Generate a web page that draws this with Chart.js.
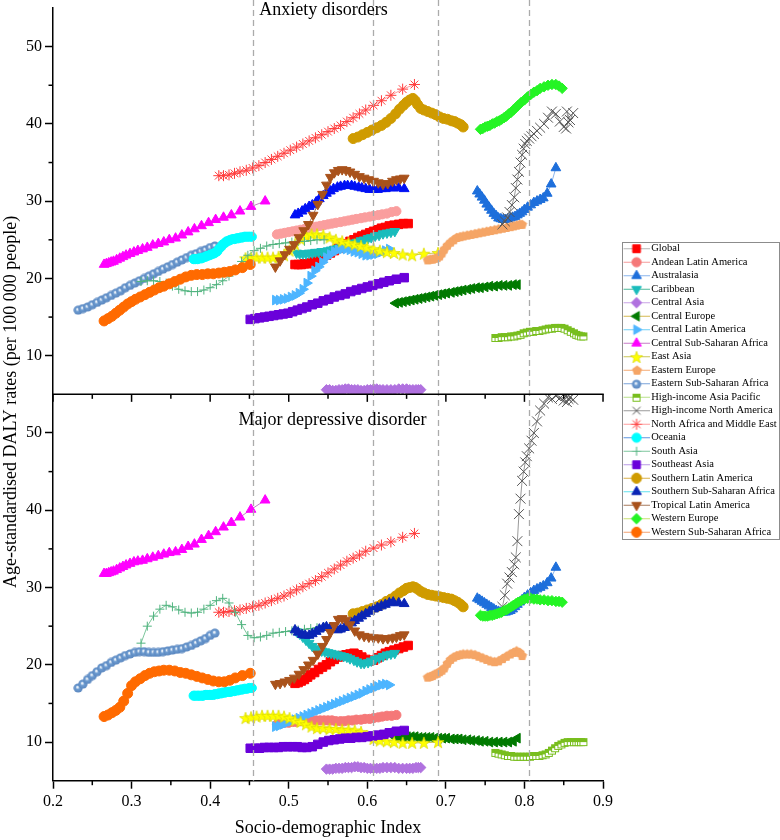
<!DOCTYPE html>
<html>
<head>
<meta charset="utf-8">
<title>SDI vs age-standardised DALY rates</title>
<script src="https://cdn.jsdelivr.net/npm/chart.js"></script>
<style>
html,body{margin:0;padding:0;background:#ffffff;overflow:hidden;width:780px;height:840px;}
canvas{display:block;}
</style>
</head>
<body>
<canvas id="chart" width="790" height="840" style="width:790px;height:840px"></canvas>
<script>
// ---------------- DATA ----------------
const categories = ['Global','Andean Latin America','Australasia','Caribbean','Central Asia','Central Europe',
  'Central Latin America','Central Sub-Saharan Africa','East Asia','Eastern Europe','Eastern Sub-Saharan Africa',
  'High-income Asia Pacific','High-income North America','North Africa and Middle East','Oceania','South Asia',
  'Southeast Asia','Southern Latin America','Southern Sub-Saharan Africa','Tropical Latin America','Western Europe',
  'Western Sub-Saharan Africa'];
const panelTitles = ['Anxiety disorders', 'Major depressive disorder'];
const yAxisTitle = 'Age-standardised DALY rates (per 100 000 people)';
const xTickValues = [0.2,0.3,0.4,0.5,0.6,0.7,0.8,0.9];
const xMinorValues = [0.25,0.35,0.45,0.55,0.65,0.75,0.85];
const yMinorValues = [15,25,35,45];
const sdiQuintileCuts = [0.4547,0.6076,0.6895,0.8052];

const sdiGlobal = [0.508,0.512,0.516,0.520,0.524,0.528,0.533,0.538,0.543,0.548,0.553,0.558,0.563,0.568,0.573,0.578,0.583,0.588,0.593,0.598,0.603,0.608,0.613,0.618,0.623,0.628,0.634,0.640,0.646,0.652];
const anxGlobal = [21.8,21.8,21.8,21.9,21.9,22.0,22.2,22.5,22.8,23.0,23.3,23.6,23.9,24.2,24.5,24.8,25.0,25.3,25.5,25.7,25.9,26.1,26.3,26.5,26.6,26.8,26.9,27.0,27.1,27.1];
const depGlobal = [17.6,17.7,17.9,18.1,18.4,18.7,19.0,19.4,19.7,20.0,20.4,20.7,21.0,21.2,21.3,21.4,21.5,21.3,21.0,20.7,20.5,20.6,20.9,21.2,21.5,21.7,21.9,22.1,22.3,22.5];

const sdiAndean = [0.485,0.490,0.495,0.500,0.505,0.510,0.515,0.520,0.525,0.530,0.535,0.540,0.545,0.550,0.555,0.560,0.566,0.571,0.576,0.581,0.586,0.592,0.597,0.603,0.608,0.614,0.619,0.625,0.631,0.637];
const anxAndean = [25.7,25.8,25.9,26.0,26.1,26.2,26.3,26.4,26.5,26.6,26.7,26.8,26.9,27.0,27.1,27.2,27.3,27.4,27.5,27.6,27.7,27.8,27.9,28.0,28.1,28.2,28.3,28.4,28.6,28.7];
const depAndean = [12.3,12.4,12.5,12.5,12.6,12.6,12.7,12.7,12.8,12.8,12.8,12.8,12.8,12.8,12.8,12.7,12.7,12.7,12.8,12.8,12.9,12.9,13.0,13.0,13.1,13.2,13.3,13.4,13.4,13.5];

const sdiAustralasia = [0.740,0.743,0.746,0.749,0.752,0.755,0.758,0.761,0.764,0.767,0.770,0.773,0.776,0.779,0.782,0.785,0.788,0.791,0.794,0.797,0.800,0.804,0.808,0.812,0.816,0.820,0.824,0.829,0.834,0.840];
const anxAustralasia = [31.3,30.9,30.5,30.1,29.6,29.2,28.8,28.4,28.1,27.8,27.7,27.6,27.6,27.7,27.8,27.9,28.0,28.2,28.4,28.6,28.9,29.2,29.5,29.8,30.0,30.2,30.4,31.0,32.2,34.3];
const depAustralasia = [28.6,28.4,28.2,28.0,27.8,27.6,27.4,27.2,27.0,26.9,26.8,26.8,26.8,26.9,27.0,27.2,27.5,27.8,28.1,28.4,28.7,29.0,29.3,29.6,29.8,30.0,30.2,30.6,31.2,32.6];

const sdiCaribbean = [0.510,0.514,0.518,0.522,0.526,0.530,0.534,0.538,0.542,0.546,0.550,0.554,0.558,0.562,0.566,0.570,0.574,0.578,0.583,0.587,0.592,0.596,0.601,0.605,0.610,0.615,0.620,0.625,0.630,0.635];
const anxCaribbean = [23.3,23.2,23.2,23.2,23.3,23.3,23.4,23.4,23.5,23.5,23.6,23.7,23.8,23.9,24.0,24.1,24.3,24.4,24.6,24.7,24.9,25.0,25.2,25.3,25.5,25.6,25.8,25.9,26.0,26.1];
const depCaribbean = [24.3,24.0,23.6,23.2,22.8,22.4,22.1,21.9,21.8,21.7,21.6,21.5,21.4,21.3,21.2,21.1,21.0,20.8,20.6,20.4,20.2,20.2,20.3,20.5,20.7,20.9,21.1,21.3,21.4,21.5];

const sdiCentralAsia = [0.548,0.552,0.556,0.560,0.564,0.568,0.572,0.576,0.580,0.584,0.588,0.592,0.596,0.600,0.604,0.608,0.612,0.616,0.620,0.625,0.630,0.635,0.640,0.645,0.650,0.654,0.658,0.662,0.665,0.668];
const anxCentralAsia = [5.6,5.6,5.5,5.5,5.6,5.6,5.7,5.7,5.6,5.6,5.6,5.5,5.5,5.6,5.6,5.7,5.7,5.6,5.6,5.6,5.6,5.6,5.7,5.7,5.7,5.6,5.6,5.6,5.6,5.6];
const depCentralAsia = [6.5,6.5,6.5,6.6,6.6,6.6,6.7,6.7,6.7,6.8,6.8,6.7,6.7,6.6,6.6,6.6,6.6,6.6,6.7,6.7,6.7,6.7,6.6,6.6,6.6,6.6,6.6,6.7,6.7,6.7];

const sdiCentralEurope = [0.636,0.641,0.646,0.651,0.656,0.661,0.666,0.671,0.676,0.681,0.686,0.691,0.696,0.701,0.707,0.712,0.717,0.722,0.728,0.733,0.739,0.744,0.750,0.756,0.762,0.768,0.774,0.780,0.786,0.791];
const anxCentralEurope = [16.8,16.9,17.0,17.1,17.2,17.3,17.4,17.5,17.6,17.7,17.8,17.9,18.0,18.1,18.2,18.3,18.4,18.5,18.6,18.7,18.8,18.8,18.9,19.0,19.0,19.1,19.1,19.1,19.2,19.2];
const depCentralEurope = [10.6,10.6,10.6,10.7,10.7,10.7,10.6,10.6,10.6,10.6,10.5,10.5,10.5,10.5,10.4,10.4,10.4,10.3,10.3,10.2,10.2,10.1,10.1,10.0,10.0,10.0,10.0,10.0,10.1,10.5];

const sdiCentralLatAm = [0.483,0.488,0.493,0.498,0.503,0.508,0.513,0.518,0.523,0.528,0.533,0.538,0.543,0.548,0.553,0.558,0.563,0.568,0.573,0.578,0.583,0.588,0.593,0.598,0.603,0.608,0.613,0.618,0.623,0.628];
const anxCentralLatAm = [17.2,17.2,17.3,17.4,17.6,17.8,18.1,18.6,19.4,20.3,21.0,21.5,22.1,22.7,23.1,23.5,23.7,23.8,23.8,23.7,23.5,23.4,23.2,23.0,23.0,23.1,23.2,23.4,23.6,23.8];
const depCentralLatAm = [12.0,12.1,12.3,12.5,12.7,12.9,13.1,13.3,13.5,13.7,13.9,14.1,14.3,14.5,14.7,14.9,15.1,15.3,15.5,15.7,15.9,16.1,16.3,16.6,16.8,17.0,17.2,17.4,17.5,17.4];

const sdiCentralSSA = [0.265,0.268,0.271,0.274,0.277,0.281,0.285,0.289,0.293,0.298,0.303,0.308,0.314,0.320,0.327,0.334,0.341,0.348,0.356,0.364,0.372,0.380,0.389,0.398,0.407,0.417,0.427,0.438,0.452,0.470];
const anxCentralSSA = [21.8,21.9,22.0,22.1,22.2,22.4,22.6,22.8,23.0,23.2,23.4,23.6,23.8,24.0,24.3,24.5,24.7,25.0,25.2,25.6,26.0,26.4,26.8,27.2,27.6,27.9,28.2,28.7,29.3,30.0];
const depCentralSSA = [31.8,31.8,31.9,32.0,32.1,32.3,32.5,32.7,32.9,33.1,33.3,33.4,33.5,33.7,33.9,34.1,34.3,34.5,34.6,34.9,35.3,35.6,36.2,36.7,37.2,37.8,38.4,39.1,40.1,41.3];

const sdiEastAsia = [0.445,0.452,0.459,0.466,0.473,0.480,0.487,0.494,0.501,0.508,0.515,0.522,0.529,0.536,0.544,0.552,0.560,0.568,0.576,0.584,0.592,0.600,0.608,0.616,0.625,0.634,0.645,0.657,0.672,0.690];
const anxEastAsia = [22.6,22.7,22.7,22.7,22.7,22.7,22.8,23.0,23.6,24.4,25.1,25.5,25.7,25.7,25.6,25.3,25.0,24.8,24.6,24.4,24.2,24.0,23.8,23.6,23.4,23.3,23.1,23.0,23.2,23.3];
const depEastAsia = [13.1,13.2,13.3,13.4,13.4,13.4,13.4,13.3,13.1,12.8,12.6,12.3,12.0,11.8,11.8,11.7,11.7,11.6,11.6,11.5,11.3,10.8,10.4,10.2,10.1,10.0,9.9,9.9,9.9,10.0];

const sdiEasternEurope = [0.677,0.680,0.683,0.686,0.689,0.692,0.695,0.698,0.702,0.706,0.710,0.714,0.718,0.722,0.727,0.732,0.737,0.742,0.747,0.752,0.757,0.762,0.767,0.772,0.777,0.782,0.786,0.790,0.794,0.797];
const anxEasternEurope = [22.4,22.5,22.5,22.6,22.7,22.9,23.3,23.8,24.3,24.7,25.0,25.3,25.4,25.5,25.6,25.7,25.8,25.9,26.0,26.1,26.2,26.3,26.4,26.5,26.6,26.7,26.8,26.9,27.0,27.0];
const depEasternEurope = [18.4,18.5,18.6,18.8,18.9,19.1,19.3,19.6,20.2,20.7,21.0,21.2,21.3,21.4,21.4,21.4,21.3,21.1,20.9,20.7,20.5,20.4,20.5,20.8,21.1,21.4,21.6,21.8,21.6,21.2];

const sdiEasternSSA = [0.232,0.238,0.244,0.250,0.256,0.262,0.268,0.274,0.280,0.286,0.292,0.298,0.304,0.310,0.316,0.322,0.328,0.334,0.340,0.346,0.352,0.358,0.364,0.370,0.376,0.382,0.388,0.394,0.400,0.406];
const anxEasternSSA = [15.9,16.1,16.3,16.6,16.9,17.2,17.5,17.8,18.1,18.4,18.8,19.1,19.4,19.7,20.0,20.3,20.6,20.9,21.2,21.5,21.8,22.1,22.4,22.7,23.0,23.2,23.5,23.7,24.0,24.2];
const depEasternSSA = [17.0,17.5,18.1,18.6,19.1,19.6,19.9,20.3,20.6,20.9,21.2,21.4,21.6,21.7,21.7,21.6,21.6,21.6,21.7,21.8,21.9,22.0,22.1,22.3,22.5,22.8,23.1,23.4,23.8,24.1];

const sdiHIAsiaPacific = [0.763,0.767,0.771,0.775,0.779,0.783,0.787,0.791,0.795,0.799,0.803,0.807,0.811,0.815,0.819,0.823,0.827,0.831,0.835,0.839,0.843,0.847,0.851,0.855,0.859,0.863,0.866,0.869,0.872,0.875];
const anxHIAsiaPacific = [12.3,12.3,12.4,12.4,12.4,12.5,12.5,12.6,12.7,12.9,13.0,13.1,13.1,13.2,13.2,13.3,13.4,13.5,13.5,13.6,13.6,13.6,13.5,13.3,13.1,12.9,12.7,12.6,12.5,12.5];
const depHIAsiaPacific = [8.6,8.5,8.4,8.3,8.2,8.2,8.1,8.1,8.1,8.1,8.1,8.1,8.2,8.2,8.2,8.3,8.4,8.6,8.9,9.2,9.5,9.7,9.9,10.0,10.0,10.0,10.0,10.0,10.0,10.0];

const sdiHINorthAmerica = [0.772,0.775,0.778,0.781,0.784,0.787,0.789,0.791,0.793,0.795,0.797,0.799,0.801,0.803,0.806,0.809,0.812,0.816,0.820,0.825,0.830,0.835,0.840,0.845,0.850,0.853,0.856,0.854,0.858,0.862];
const anxHINorthAmerica = [27.0,27.4,27.9,28.6,29.5,30.5,31.7,32.8,33.8,35.0,36.0,36.8,37.4,37.8,38.1,38.4,38.7,39.1,39.5,40.0,40.8,41.6,41.3,40.3,39.6,39.4,40.2,41.6,40.5,41.4];
const depHINorthAmerica = [27.5,29.0,30.5,31.3,32.0,33.0,33.9,36.0,39.5,41.5,43.8,45.0,46.2,47.0,48.0,49.0,50.0,51.5,52.9,53.8,54.6,54.4,54.8,54.5,54.2,54.8,54.4,54.0,54.6,54.3];

const sdiNAME = [0.411,0.417,0.424,0.431,0.438,0.446,0.454,0.462,0.470,0.478,0.486,0.494,0.502,0.510,0.518,0.526,0.534,0.542,0.550,0.558,0.566,0.574,0.582,0.590,0.598,0.608,0.618,0.630,0.645,0.660];
const anxNAME = [33.3,33.3,33.4,33.6,33.8,34.0,34.3,34.6,35.0,35.4,35.8,36.2,36.6,37.0,37.4,37.8,38.2,38.6,39.0,39.4,39.8,40.3,40.8,41.3,41.8,42.4,43.0,43.7,44.5,45.1];
const depNAME = [26.8,26.8,26.9,27.0,27.1,27.3,27.5,27.7,28.0,28.3,28.6,28.9,29.3,29.7,30.1,30.5,30.9,31.4,31.9,32.4,32.9,33.4,33.8,34.2,34.7,35.1,35.5,35.9,36.5,37.0];

const sdiOceania = [0.379,0.381,0.384,0.386,0.389,0.391,0.394,0.396,0.399,0.401,0.404,0.406,0.409,0.411,0.414,0.416,0.419,0.421,0.424,0.426,0.429,0.431,0.434,0.436,0.439,0.441,0.444,0.447,0.450,0.453];
const anxOceania = [22.5,22.5,22.5,22.6,22.6,22.7,22.8,22.9,23.0,23.1,23.2,23.3,23.5,23.8,24.1,24.4,24.6,24.8,24.9,25.0,25.1,25.1,25.2,25.2,25.3,25.3,25.4,25.4,25.4,25.4];
const depOceania = [16.0,16.0,16.0,16.0,16.0,16.0,16.1,16.1,16.1,16.1,16.1,16.2,16.2,16.3,16.3,16.4,16.4,16.5,16.5,16.5,16.6,16.6,16.7,16.7,16.8,16.8,16.9,16.9,17.0,17.0];

const sdiSouthAsia = [0.312,0.320,0.328,0.336,0.344,0.352,0.360,0.368,0.376,0.384,0.392,0.400,0.408,0.416,0.424,0.432,0.440,0.448,0.456,0.464,0.472,0.480,0.488,0.496,0.504,0.512,0.520,0.528,0.536,0.545];
const anxSouthAsia = [19.6,19.7,19.7,19.6,19.4,19.0,18.6,18.4,18.3,18.3,18.5,18.8,19.2,19.7,20.3,21.2,22.2,23.0,23.6,23.9,24.2,24.4,24.5,24.6,24.7,24.8,24.8,24.9,25.0,25.0];
const depSouthAsia = [22.8,25.0,26.3,27.2,27.7,27.5,27.1,26.8,26.7,26.8,27.2,27.7,28.3,28.6,28.0,26.8,25.2,23.8,23.5,23.6,23.8,24.1,24.2,24.3,24.4,24.5,24.6,24.7,24.8,24.9];

const sdiSoutheastAsia = [0.451,0.457,0.463,0.469,0.475,0.481,0.487,0.493,0.499,0.505,0.511,0.517,0.523,0.530,0.537,0.544,0.551,0.558,0.565,0.572,0.579,0.586,0.593,0.600,0.607,0.614,0.621,0.628,0.637,0.647];
const anxSoutheastAsia = [14.7,14.8,14.9,15.0,15.1,15.2,15.3,15.4,15.5,15.7,15.9,16.1,16.3,16.6,16.8,17.1,17.3,17.6,17.8,18.0,18.3,18.5,18.7,18.9,19.1,19.3,19.5,19.7,19.9,20.1];
const depSoutheastAsia = [9.2,9.2,9.2,9.3,9.3,9.3,9.3,9.4,9.4,9.4,9.4,9.3,9.3,9.4,9.7,10.0,10.2,10.3,10.4,10.5,10.5,10.6,10.6,10.7,10.8,10.9,11.0,11.2,11.4,11.5];

const sdiSouthernLatAm = [0.582,0.588,0.594,0.600,0.606,0.612,0.618,0.624,0.630,0.636,0.641,0.646,0.650,0.654,0.658,0.661,0.664,0.668,0.672,0.677,0.682,0.687,0.692,0.697,0.702,0.707,0.711,0.715,0.719,0.722];
const anxSouthernLatAm = [38.1,38.3,38.6,38.9,39.2,39.5,39.8,40.2,40.7,41.3,41.9,42.4,42.8,43.1,43.3,43.0,42.5,42.0,41.8,41.6,41.4,41.2,40.9,40.7,40.6,40.4,40.3,40.1,39.9,39.6];
const depSouthernLatAm = [26.6,26.7,26.9,27.1,27.3,27.5,27.8,28.2,28.5,28.9,29.3,29.6,29.9,30.0,30.1,30.0,29.8,29.5,29.3,29.1,29.0,28.9,28.8,28.7,28.6,28.5,28.3,28.1,27.8,27.5];

const sdiSouthernSSA = [0.508,0.512,0.517,0.521,0.526,0.530,0.535,0.539,0.544,0.548,0.553,0.557,0.562,0.566,0.571,0.575,0.580,0.584,0.589,0.593,0.598,0.603,0.608,0.613,0.618,0.623,0.628,0.633,0.640,0.647];
const anxSouthernSSA = [28.2,28.4,28.7,29.0,29.3,29.5,29.9,30.3,30.7,31.0,31.3,31.6,31.8,31.9,32.0,32.0,32.0,31.9,31.8,31.7,31.6,31.5,31.5,31.5,31.6,31.6,31.7,31.7,31.7,31.6];
const depSouthernSSA = [24.5,24.2,23.9,23.8,23.8,24.0,24.3,24.6,24.8,24.9,24.8,24.6,24.5,24.6,24.8,25.1,25.4,25.7,26.0,26.3,26.6,26.9,27.2,27.4,27.6,27.8,28.0,28.1,28.0,27.9];

const sdiTropicalLatAm = [0.483,0.489,0.495,0.501,0.507,0.513,0.519,0.525,0.531,0.537,0.543,0.548,0.553,0.558,0.563,0.568,0.573,0.578,0.584,0.590,0.596,0.602,0.608,0.614,0.620,0.626,0.632,0.637,0.642,0.647];
const anxTropicalLatAm = [21.5,22.3,23.1,23.8,24.4,25.3,26.2,27.0,28.2,29.6,30.9,32.1,33.1,33.7,34.0,34.1,34.0,33.8,33.5,33.2,33.0,32.8,32.6,32.4,32.2,32.3,32.6,32.8,32.9,33.0];
const depTropicalLatAm = [17.5,17.6,17.8,18.0,18.3,18.8,19.4,20.0,20.6,21.4,22.4,23.3,24.2,25.1,25.9,26.0,25.8,25.2,24.4,23.9,23.7,23.6,23.5,23.5,23.4,23.4,23.5,23.6,23.8,23.9];

const sdiWesternEurope = [0.744,0.747,0.750,0.753,0.756,0.759,0.762,0.765,0.768,0.771,0.774,0.777,0.780,0.783,0.786,0.789,0.792,0.796,0.800,0.804,0.808,0.812,0.816,0.820,0.825,0.830,0.835,0.840,0.844,0.848];
const anxWesternEurope = [39.3,39.4,39.6,39.7,39.8,40.0,40.1,40.3,40.4,40.6,40.8,41.0,41.3,41.5,41.8,42.1,42.4,42.8,43.1,43.5,43.8,44.1,44.3,44.6,44.8,45.0,45.1,45.1,44.9,44.6];
const depWesternEurope = [26.4,26.3,26.3,26.3,26.4,26.4,26.5,26.6,26.7,26.8,27.0,27.1,27.3,27.5,27.7,27.9,28.1,28.3,28.5,28.6,28.6,28.5,28.5,28.4,28.4,28.3,28.3,28.2,28.2,28.1];

const sdiWesternSSA = [0.265,0.270,0.275,0.280,0.285,0.290,0.295,0.300,0.305,0.311,0.317,0.323,0.329,0.335,0.341,0.348,0.355,0.362,0.369,0.376,0.383,0.390,0.397,0.404,0.411,0.418,0.425,0.432,0.441,0.451];
const anxWesternSSA = [14.5,14.8,15.1,15.5,15.9,16.3,16.7,17.0,17.3,17.6,17.9,18.2,18.5,18.8,19.0,19.3,19.6,19.9,20.2,20.4,20.5,20.5,20.6,20.6,20.7,20.8,20.9,21.1,21.4,21.8];
const depWesternSSA = [13.3,13.5,13.8,14.1,14.5,15.3,16.3,17.3,17.8,18.2,18.6,18.9,19.1,19.2,19.3,19.3,19.2,19.0,18.9,18.7,18.5,18.3,18.1,17.9,17.8,17.8,18.0,18.3,18.6,18.9];

const sdiSeries = [sdiGlobal,sdiAndean,sdiAustralasia,sdiCaribbean,sdiCentralAsia,sdiCentralEurope,sdiCentralLatAm,sdiCentralSSA,sdiEastAsia,sdiEasternEurope,sdiEasternSSA,sdiHIAsiaPacific,sdiHINorthAmerica,sdiNAME,sdiOceania,sdiSouthAsia,sdiSoutheastAsia,sdiSouthernLatAm,sdiSouthernSSA,sdiTropicalLatAm,sdiWesternEurope,sdiWesternSSA];
const anxSeries = [anxGlobal,anxAndean,anxAustralasia,anxCaribbean,anxCentralAsia,anxCentralEurope,anxCentralLatAm,anxCentralSSA,anxEastAsia,anxEasternEurope,anxEasternSSA,anxHIAsiaPacific,anxHINorthAmerica,anxNAME,anxOceania,anxSouthAsia,anxSoutheastAsia,anxSouthernLatAm,anxSouthernSSA,anxTropicalLatAm,anxWesternEurope,anxWesternSSA];
const depSeries = [depGlobal,depAndean,depAustralasia,depCaribbean,depCentralAsia,depCentralEurope,depCentralLatAm,depCentralSSA,depEastAsia,depEasternEurope,depEasternSSA,depHIAsiaPacific,depHINorthAmerica,depNAME,depOceania,depSouthAsia,depSoutheastAsia,depSouthernLatAm,depSouthernSSA,depTropicalLatAm,depWesternEurope,depWesternSSA];

// ---------------- MARKER IMAGES ----------------
function mk(w, h, draw) { const c = document.createElement('canvas'); c.width = w; c.height = h; draw(c.getContext('2d')); return c; }
function polyPath(c, cx, cy, radii, n) {
  c.beginPath();
  for (let k = 0; k < n; k++) {
    const a = -Math.PI / 2 + k * 2 * Math.PI / n;
    const rr = radii[k % radii.length];
    c.lineTo(cx + rr * Math.cos(a), cy + rr * Math.sin(a));
  }
  c.closePath();
}
const starImg = mk(14, 14, c => { polyPath(c, 7, 7.5, [6.4, 2.6], 10); c.fillStyle = '#FFFF00'; c.fill(); c.strokeStyle = '#D9D900'; c.lineWidth = 0.7; c.stroke(); });
const pentagonImg = mk(11, 11, c => { polyPath(c, 5.5, 5.9, [5.2], 5); c.fillStyle = '#F5A566'; c.fill(); });
const sphereImg = mk(10, 10, c => {
  const g = c.createRadialGradient(4.2, 4.0, 0.1, 5, 5, 4.7);
  g.addColorStop(0, '#FFFFFF'); g.addColorStop(0.16, '#DDE8F5'); g.addColorStop(0.42, '#6E9DD2'); g.addColorStop(1, '#5884BD');
  c.beginPath(); c.arc(5, 5, 4.6, 0, Math.PI * 2); c.fillStyle = g; c.fill();
});
const halfSquareImg = mk(10, 10, c => {
  c.fillStyle = '#FFFFFF'; c.fillRect(1, 1, 8, 8);
  c.fillStyle = '#78BE1E'; c.fillRect(1, 1, 8, 4);
  c.strokeStyle = '#78BE1E'; c.lineWidth = 1; c.strokeRect(1.5, 1.5, 7, 7);
});

// ---------------- STYLES (one per region, same order as categories) ----------------
const seriesStyles = [
  {shape:'rect', r:6, fill:'#FF0000', line:'#B4B4B4'},
  {shape:'circle', r:4.6, fill:'#F57878', fillA:'#FA9E9E', line:'#F49A9A'},
  {shape:'triangle', r:5.6, fill:'#1E6FDB', line:'#8AB4EC'},
  {shape:'triangle', rot:180, r:5.6, fill:'#1ABCBC', line:'#4DB89A'},
  {shape:'rectRot', r:5.2, fill:'#B071DF', line:'#C9A3E6'},
  {shape:'triangle', rot:270, r:5.6, fill:'#007A00', line:'#D4B850'},
  {shape:'triangle', rot:90, r:5.6, fill:'#4DB5FF', line:'#6CCFF5'},
  {shape:'triangle', r:5.6, fill:'#FF00FF', line:'#C77BC7'},
  {img:starImg, fill:'#FFFF00', line:'#C8C456'},
  {img:pentagonImg, fill:'#F5A566', line:'#F5A870'},
  {img:sphereImg, fill:'#6A99CF', line:'#7AA3DA'},
  {img:halfSquareImg, fill:'#78BE1E', line:'#B8E08A'},
  {shape:'crossRot', r:7, fill:'#555555', line:'#9A9A9A'},
  {shape:'star', r:5.5, fill:'#FF3C3C', line:'#FF9C9C'},
  {shape:'circle', r:4.6, fill:'#00FFFF', line:'#5E96E0'},
  {shape:'cross', r:4.5, fill:'#4FB37E', line:'#7CC69C'},
  {shape:'rect', r:6, fill:'#6A00DA', line:'#B99AE6'},
  {shape:'circle', r:5, fill:'#CF9B00', line:'#D9B04A'},
  {shape:'triangle', r:5.6, fill:'#0A25B5', fillA:'#0010F5', line:'#5FE0EE'},
  {shape:'triangle', rot:180, r:5.6, fill:'#A9521B', line:'#A77A5C'},
  {shape:'rectRot', r:5.2, fill:'#25F425', line:'#C8E070'},
  {shape:'circle', r:5, fill:'#FF6A00', line:'#F2A070'}
];

// ---------------- LEGEND IMAGES (line + marker) ----------------
function drawShape(c, st, x, y) {
  const r = st.r, fill = st.fill;
  c.save();
  c.fillStyle = fill; c.strokeStyle = fill; c.lineWidth = 1;
  c.beginPath();
  if (st.img) { c.drawImage(st.img, Math.round(x - st.img.width / 2), Math.round(y - st.img.height / 2)); c.restore(); return; }
  switch (st.shape) {
    case 'circle': c.arc(x, y, r, 0, Math.PI * 2); c.fill(); c.stroke(); break;
    case 'rect': { const s = r * Math.SQRT1_2; c.rect(x - s, y - s, 2 * s, 2 * s); c.fill(); c.stroke(); break; }
    case 'triangle': {
      let a = (st.rot || 0) * Math.PI / 180;
      c.moveTo(x + Math.sin(a) * r, y - Math.cos(a) * r); a += 2 * Math.PI / 3;
      c.lineTo(x + Math.sin(a) * r, y - Math.cos(a) * r); a += 2 * Math.PI / 3;
      c.lineTo(x + Math.sin(a) * r, y - Math.cos(a) * r); c.closePath(); c.fill(); c.stroke(); break; }
    case 'rectRot': c.moveTo(x - r, y); c.lineTo(x, y - r); c.lineTo(x + r, y); c.lineTo(x, y + r); c.closePath(); c.fill(); c.stroke(); break;
    case 'cross': c.moveTo(x, y - r); c.lineTo(x, y + r); c.moveTo(x - r, y); c.lineTo(x + r, y); c.stroke(); break;
    case 'crossRot': { const d = r * Math.SQRT1_2; c.moveTo(x - d, y - d); c.lineTo(x + d, y + d); c.moveTo(x + d, y - d); c.lineTo(x - d, y + d); c.stroke(); break; }
    case 'star': { const d = r * Math.SQRT1_2; c.moveTo(x, y - r); c.lineTo(x, y + r); c.moveTo(x - r, y); c.lineTo(x + r, y);
      c.moveTo(x - d, y - d); c.lineTo(x + d, y + d); c.moveTo(x + d, y - d); c.lineTo(x - d, y + d); c.stroke(); break; }
  }
  c.restore();
}
const LEG_BOX = 40;            // pointStyleWidth
const LEG_IMG_W = LEG_BOX + 7;  // image wider than box so line reaches text
const legendImgs = seriesStyles.map(st => mk(LEG_IMG_W, 13, c => {
  c.strokeStyle = st.line; c.lineWidth = 1;
  c.beginPath(); c.moveTo(LEG_IMG_W - 26, 6.5); c.lineTo(LEG_IMG_W, 6.5); c.stroke();
  const small = Object.assign({}, st, {r: st.r ? Math.min(st.r, 5.5) : st.r});
  drawShape(c, small, LEG_IMG_W - 13, 6.5);
}));

// ---------------- DATASETS ----------------
const datasets = [];
categories.forEach((name, i) => {
  const st = seriesStyles[i];
  [['yA', anxSeries[i], st.fillA || st.fill], ['yD', depSeries[i], st.fill]].forEach(([axis, vals, col]) => {
    datasets.push({
      label: name,
      data: sdiSeries[i].map((x, k) => ({x: x, y: vals[k]})),
      yAxisID: axis,
      showLine: true,
      borderColor: st.line,
      borderWidth: 1,
      tension: 0,
      fill: false,
      pointStyle: st.img || st.shape,
      pointRotation: st.rot || 0,
      pointRadius: st.r || 5,
      pointBackgroundColor: col,
      pointBorderColor: col,
      pointBorderWidth: 1,
      order: -i
    });
  });
});

// ---------------- PLUGINS ----------------
const legendWidthFix = {
  id: 'legendWidthFix',
  beforeLayout(chart) {
    const lg = chart.legend;
    if (lg && !lg.__wide) {
      const orig = lg.update;
      lg.update = function (maxWidth, maxHeight, margins) { return orig.call(this, 400, maxHeight, margins); };
      lg.__wide = true;
    }
  }
};

const extras = {
  id: 'extras',
  afterDatasetsDraw(chart) {
    const {ctx, scales: {x, yD}} = chart;
    ctx.save();
    ctx.strokeStyle = '#ABABAB'; ctx.lineWidth = 1.3; ctx.setLineDash([6, 4]);
    sdiQuintileCuts.forEach(v => {
      const px = Math.round(x.getPixelForValue(v)) + 0.5;
      ctx.beginPath(); ctx.moveTo(px, 0); ctx.lineTo(px, yD.bottom); ctx.stroke();
    });
    ctx.restore();
  },
  afterDraw(chart) {
    const {ctx, chartArea: ca, scales: {x, yA, yD}} = chart;
    ctx.save();
    ctx.strokeStyle = '#000'; ctx.lineWidth = 1.5;
    const ym = yA.bottom;
    ctx.beginPath(); ctx.moveTo(ca.left - 0.75, ym); ctx.lineTo(ca.right + 0.75, ym); ctx.stroke();
    xTickValues.forEach(v => { const p = x.getPixelForValue(v); ctx.beginPath(); ctx.moveTo(p, ym); ctx.lineTo(p, ym + 7.5); ctx.stroke(); });
    xMinorValues.forEach(v => {
      const p = x.getPixelForValue(v);
      ctx.beginPath(); ctx.moveTo(p, ym); ctx.lineTo(p, ym + 4.5); ctx.stroke();
      ctx.beginPath(); ctx.moveTo(p, x.top); ctx.lineTo(p, x.top + 4.5); ctx.stroke();
    });
    [yA, yD].forEach(s => yMinorValues.forEach(v => {
      const p = s.getPixelForValue(v);
      ctx.beginPath(); ctx.moveTo(ca.left, p); ctx.lineTo(ca.left - 4.5, p); ctx.stroke();
    }));
    ctx.fillStyle = '#000'; ctx.font = '18px "Liberation Serif"'; ctx.textAlign = 'center'; ctx.textBaseline = 'middle';
    ctx.fillText(panelTitles[0], x.getPixelForValue(0.5443), yA.getPixelForValue(54.7));
    ctx.fillText(panelTitles[1], x.getPixelForValue(0.5557), yD.getPixelForValue(51.6));
    // shared y-axis title, centred across both panels
    ctx.save();
    ctx.translate(10.8, (yA.top + yD.bottom) / 2 + 7.5);
    ctx.rotate(-Math.PI / 2);
    ctx.fillText(yAxisTitle, 0, 0);
    ctx.restore();
    const hb = chart.legend && chart.legend.legendHitBoxes;
    if (hb && hb.length) {
      const first = hb[0], last = hb[hb.length - 1];
      const left = first.left + LEG_BOX / 2 - LEG_IMG_W / 2 + (LEG_IMG_W - 26) - 1.7;
      const top = first.top + 5.25 - 6.7;
      const bottom = last.top + 5.25 + 6.5;
      ctx.strokeStyle = '#8C8C8C'; ctx.lineWidth = 1;
      ctx.strokeRect(Math.round(left) + 0.5, Math.round(top) + 0.5, 779 - Math.round(left), Math.round(bottom - top));
    }
    ctx.restore();
  }
};

// ---------------- CHART ----------------
Chart.defaults.font.family = "'Liberation Serif', 'Times New Roman', serif";
Chart.defaults.color = '#000';

const yTickLabel = v => (v % 10 === 0 && v >= 10 && v <= 50) ? String(v) : null;
const yTickColor = ctx => (ctx.tick && ctx.tick.value % 10 === 0 && ctx.tick.value >= 10 && ctx.tick.value <= 50) ? '#000' : 'rgba(0,0,0,0)';
function yScale() {
  return {
    type: 'linear', position: 'left', stack: 'panels', stackWeight: 1, min: 5, max: 55,
    ticks: { stepSize: 5, autoSkip: false, padding: 3, color: '#000', font: { size: 16 }, callback: yTickLabel },
    grid: { drawOnChartArea: false, drawTicks: true, tickLength: 8, tickWidth: 1.5, tickColor: yTickColor },
    border: { display: true, color: '#000', width: 1.5 },
    afterFit: s => { s.paddingTop = 0; s.paddingBottom = 0; }
  };
}

new Chart(document.getElementById('chart'), {
  type: 'scatter',
  data: { datasets },
  options: {
    responsive: false,
    animation: false,
    events: [],
    layout: { padding: { top: 6, right: 3.35, bottom: 0.5, left: 23 } },
    scales: {
      x: {
        type: 'linear', position: 'bottom', min: 0.2, max: 0.9,
        ticks: { stepSize: 0.1, autoSkip: false, padding: 3, color: '#000', font: { size: 16 }, maxRotation: 0,
                 callback: v => Number(v).toFixed(1) },
        grid: { drawOnChartArea: false, drawTicks: true, tickLength: 8, tickWidth: 1.5, tickColor: '#000' },
        border: { display: true, color: '#000', width: 1.5 },
        title: { display: true, text: 'Socio-demographic Index', color: '#000', font: { size: 18 }, padding: { top: 7, bottom: 0 } },
        afterFit: s => { s.height = 58.8; }
      },
      yD: yScale(),
      yA: yScale()
    },
    plugins: {
      tooltip: { enabled: false },
      title: { display: false },
      legend: {
        display: true, position: 'right', align: 'start', fullSize: false,
        title: { display: true, text: ' ', padding: { top: 220.45, bottom: 0 }, font: { size: 10 } },
        labels: {
          usePointStyle: true, pointStyleWidth: LEG_BOX, padding: 3, color: '#000',
          font: { size: 10.5 },
          generateLabels: () => categories.map((name, i) => ({
            text: name, pointStyle: legendImgs[i], fillStyle: 'rgba(0,0,0,0)', strokeStyle: 'rgba(0,0,0,0)',
            lineWidth: 0, hidden: false, datasetIndex: 2 * i, fontColor: '#000'
          }))
        }
      }
    }
  },
  plugins: [legendWidthFix, extras]
});
</script>
</body>
</html>
